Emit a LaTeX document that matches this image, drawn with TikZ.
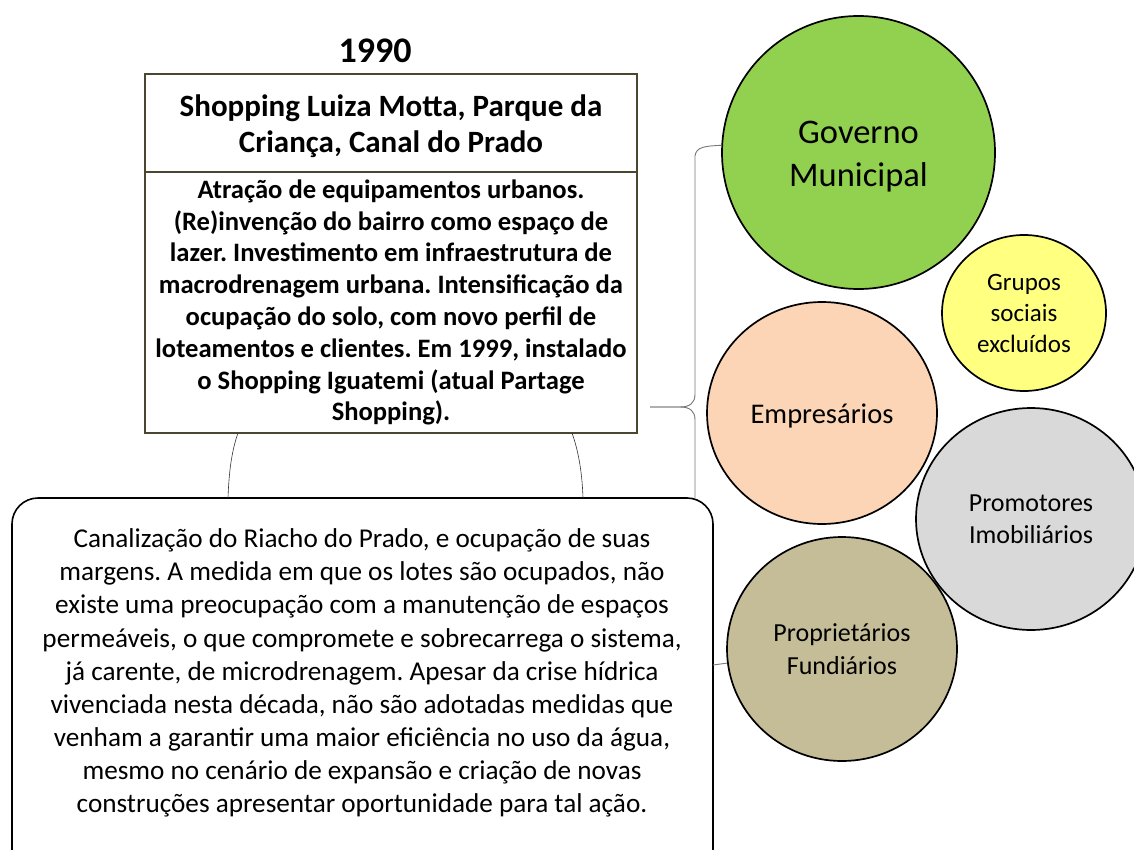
\documentclass[tikz,border=0pt]{standalone}
\usepackage{fontspec}
\setmainfont{Carlito}
\frenchspacing
\usetikzlibrary{shapes.geometric}
\definecolor{boxline}{RGB}{74,70,48}
\definecolor{govgreen}{RGB}{146,208,80}
\definecolor{grpyellow}{RGB}{255,255,128}
\definecolor{emppeach}{RGB}{251,213,181}
\definecolor{promgray}{RGB}{217,217,217}
\definecolor{proptan}{RGB}{196,189,151}
\definecolor{bracegray}{RGB}{120,120,120}
\tikzset{
  topbox/.style={draw=boxline, line width=1.6pt, fill=white, minimum width=492pt, align=center, inner sep=0pt},
  actor/.style={ellipse, draw=black, line width=1.7pt, align=center, inner sep=0pt},
  link/.style={draw=bracegray, line width=0.9pt},
  arcline/.style={draw=black!80, line width=0.6pt},
  fs/.style 2 args={font=\fontsize{#1pt}{#2pt}\selectfont}
}
\begin{document}
\begin{tikzpicture}[x=1pt,y=-1pt]
\useasboundingbox (0,0) rectangle (1134,850);
\clip (0,0) rectangle (1134,850);
\fill[white] (0,0) rectangle (1134,850);

% circles
\node[actor, fill=govgreen, minimum width=273pt, minimum height=273pt] (gov) at (858.5,152.5) {};
\node[fs={34.5}{43}, align=center] (govtext) at ([yshift=-4pt]gov.center) {Governo\\Municipal};
\node[actor, fill=grpyellow, minimum width=164pt, minimum height=156pt, fs={25}{31}] (grp) at (1024,313) {Grupos\\sociais\\excluídos};
\node[actor, fill=emppeach, minimum width=230pt, minimum height=222pt] (emp) at (822,413) {};
\node[fs={28.5}{33}] (emptext) at ([yshift=-3pt]emp.center) {Empresários};
\node[actor, fill=promgray, minimum width=230pt, minimum height=222pt, fs={26}{32}] (prom) at (1031,519) {Promotores\\Imobiliários};
\node[actor, fill=proptan, minimum width=230pt, minimum height=224pt, fs={26}{33}] (prop) at (842,649) {Proprietários\\Fundiários};

% year
\node[font=\bfseries\fontsize{36pt}{40pt}\selectfont] (year) at (375,51) {1990};

% top boxes
\node[topbox, minimum height=98pt] (head) at (391,123) {};
\node[font=\bfseries\fontsize{31pt}{36pt}\selectfont, align=center] (headtext) at ([yshift=-3pt]head.center) {Shopping Luiza Motta, Parque da\\Criança, Canal do Prado};
\node[topbox, minimum height=261pt, font=\bfseries\fontsize{26.6pt}{31.8pt}\selectfont] (body) at (391,302.5) {Atração de equipamentos urbanos.\\(Re)invenção do bairro como espaço de\\lazer. Investimento em infraestrutura de\\macrodrenagem urbana. Intensificação da\\ocupação do solo, com novo perfil de\\loteamentos e clientes. Em 1999, instalado\\o Shopping Iguatemi (atual Partage\\Shopping).};

% bottom rounded box
\draw[black, line width=1.6pt, fill=white, rounded corners=26pt] (12,498) rectangle (713,890);
\node[fs={27.2}{33.1}, align=center] (bot) at (362,673) {Canalização do Riacho do Prado, e ocupação de suas\\margens. A medida em que os lotes são ocupados, não\\existe uma preocupação com a manutenção de espaços\\permeáveis, o que compromete e sobrecarrega o sistema,\\já carente, de microdrenagem. Apesar da crise hídrica\\vivenciada nesta década, não são adotadas medidas que\\venham a garantir uma maior eficiência no uso da água,\\mesmo no cenário de expansão e criação de novas\\construções apresentar oportunidade para tal ação.};

% named connector end points
\coordinate (tip) at (650,407);
\coordinate (botTopR) at (695,498);
\coordinate (botRight) at (713,665);
\coordinate (arcLtop) at (238,433);
\coordinate (arcLbot) at (228,498);
\coordinate (arcRtop) at (572,433);
\coordinate (arcRbot) at (583,498);

% brace
\draw[link] (gov.177) .. controls (705,146) and (696,147) .. (695,156) -- (695,394)
  .. controls (695,403) and (690,407) .. (680,407) -- (tip);
\draw[link] (tip) -- (680,407) .. controls (690,407) and (695,411) .. (695,420) -- (botTopR);
% link to Proprietarios
\draw[link] (botRight) -- (prop.187);

% arcs between boxes
\draw[arcline] (arcLtop) .. controls (232,450) and (229,470) .. (arcLbot);
\draw[arcline] (arcRtop) .. controls (578,450) and (582,470) .. (arcRbot);
\end{tikzpicture}
\end{document}
